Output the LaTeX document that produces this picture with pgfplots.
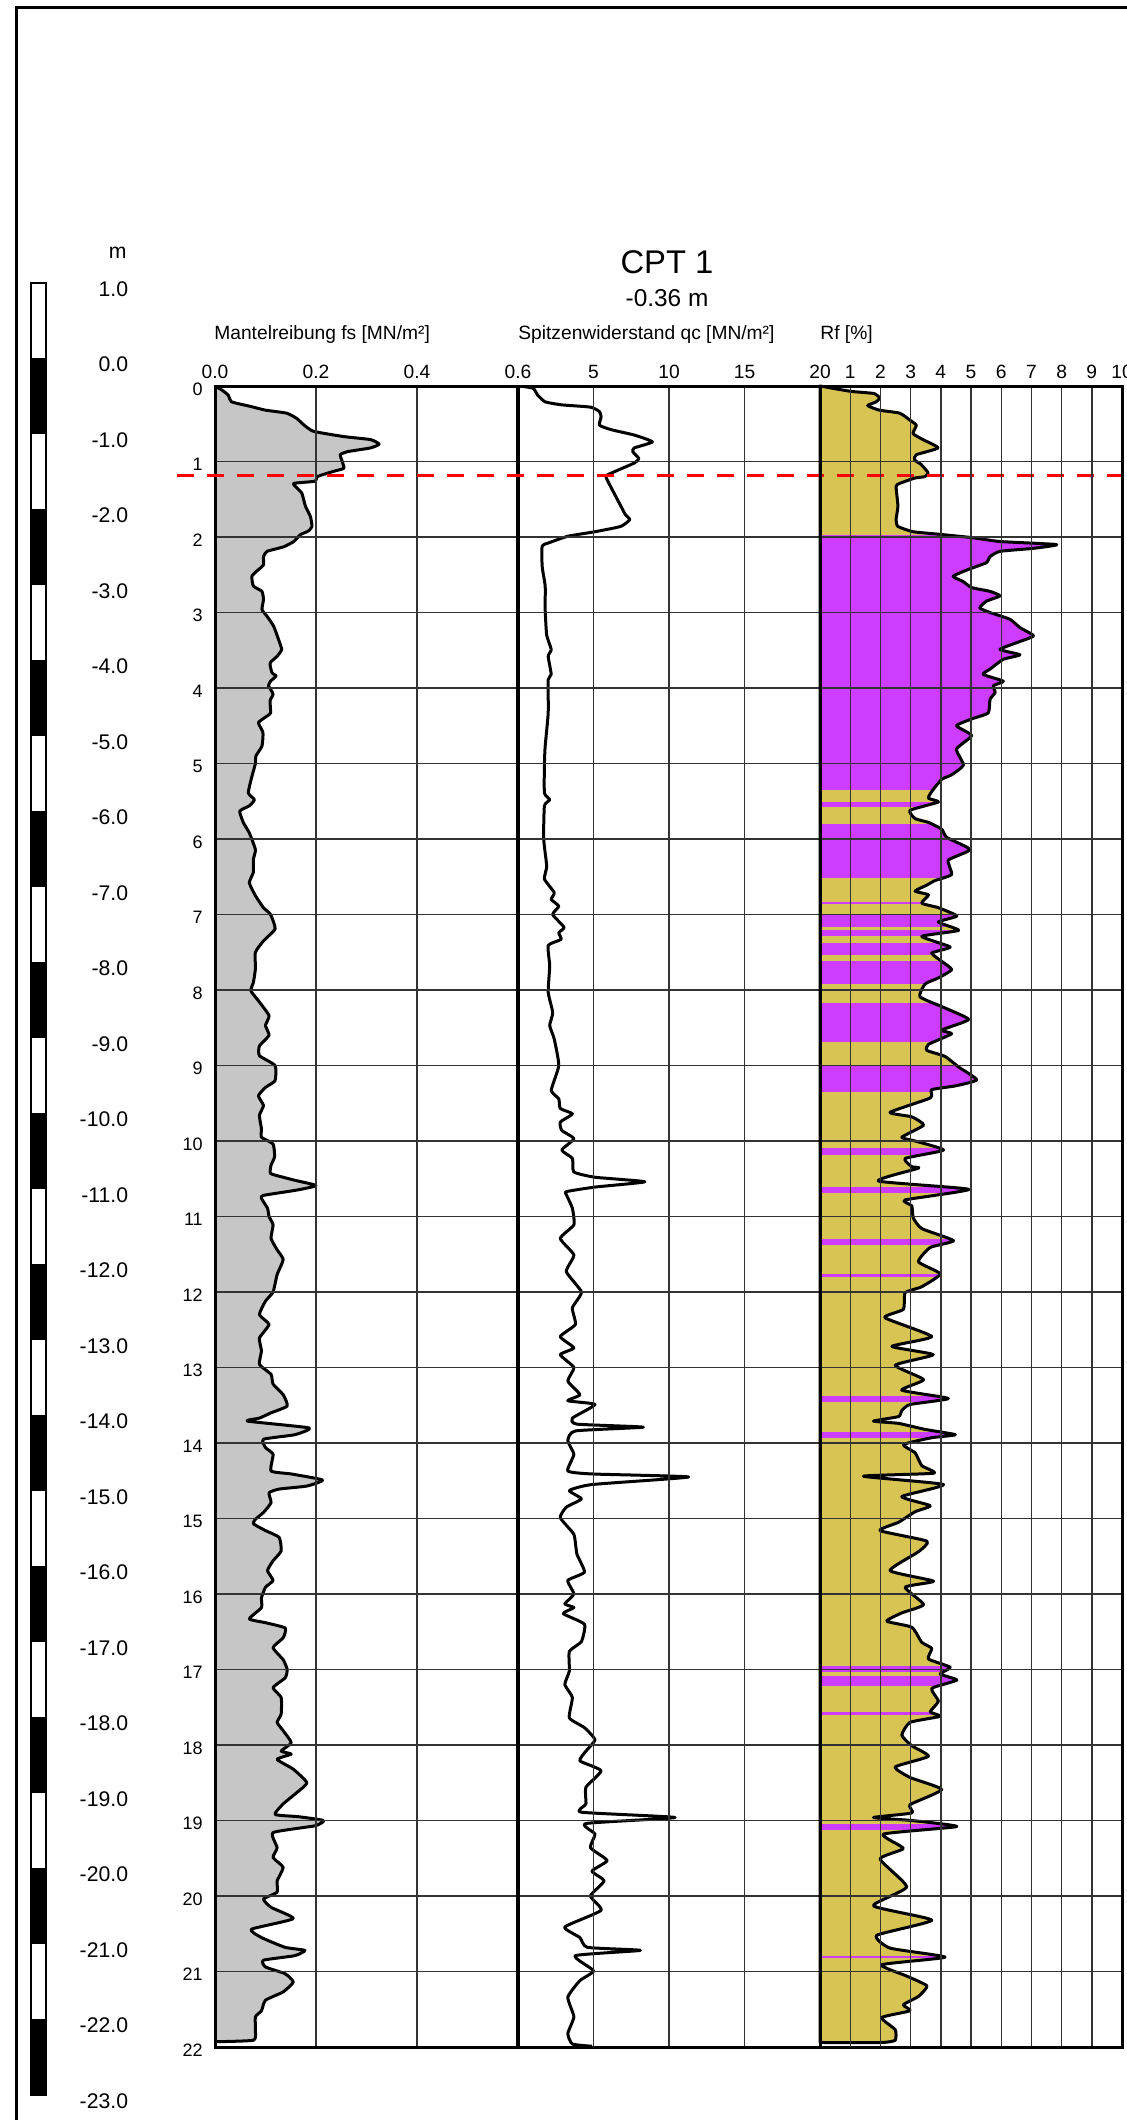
\documentclass[border=0pt]{standalone}
\usepackage{fontspec}
\setmainfont{Liberation Sans}
\usepackage{pgfplots}
\usepackage{pgfplotstable}
\pgfplotsset{compat=1.18}
\definecolor{fsgray}{RGB}{198,198,198}
\definecolor{rfyel}{RGB}{216,196,82}
\definecolor{rfmag}{RGB}{205,60,255}
\newcommand{\fsize}[1]{\fontsize{#1}{#1}\selectfont}

\pgfplotstableread{
x y
0 0
0.013 0.05
0.026 0.12
0.033 0.21
0.07 0.27
0.10 0.32
0.142 0.36
0.162 0.43
0.175 0.51
0.195 0.60
0.255 0.67
0.308 0.71
0.325 0.77
0.308 0.82
0.262 0.87
0.248 0.91
0.252 1.00
0.255 1.09
0.235 1.13
0.202 1.20
0.199 1.26
0.156 1.29
0.162 1.35
0.172 1.42
0.179 1.59
0.189 1.73
0.192 1.86
0.185 1.92
0.169 1.97
0.156 2.06
0.136 2.13
0.103 2.19
0.096 2.26
0.096 2.37
0.083 2.45
0.073 2.52
0.076 2.65
0.093 2.72
0.096 2.83
0.093 2.96
0.103 3.05
0.116 3.18
0.126 3.36
0.132 3.49
0.123 3.58
0.109 3.67
0.113 3.80
0.121 3.84
0.110 3.91
0.106 3.97
0.115 4.08
0.109 4.17
0.110 4.33
0.099 4.39
0.086 4.46
0.095 4.59
0.093 4.77
0.081 4.90
0.080 5.00
0.072 5.20
0.066 5.39
0.078 5.48
0.068 5.56
0.049 5.63
0.056 5.78
0.068 5.92
0.080 6.14
0.076 6.27
0.076 6.44
0.068 6.58
0.080 6.75
0.096 6.91
0.110 7.00
0.119 7.19
0.096 7.35
0.080 7.50
0.080 7.72
0.076 7.90
0.071 8.01
0.088 8.16
0.107 8.34
0.100 8.47
0.107 8.60
0.088 8.74
0.088 8.87
0.119 9.00
0.119 9.20
0.100 9.29
0.086 9.40
0.096 9.53
0.088 9.66
0.092 9.84
0.092 9.95
0.115 10.04
0.118 10.21
0.111 10.32
0.110 10.43
0.135 10.48
0.158 10.52
0.200 10.59
0.162 10.65
0.096 10.72
0.092 10.76
0.104 10.89
0.107 11.00
0.115 11.11
0.111 11.29
0.123 11.44
0.135 11.57
0.123 11.77
0.115 12.00
0.100 12.12
0.088 12.30
0.107 12.43
0.088 12.61
0.092 12.78
0.088 12.96
0.111 13.09
0.115 13.22
0.135 13.36
0.143 13.51
0.111 13.60
0.088 13.67
0.064 13.71
0.186 13.80
0.158 13.89
0.096 13.95
0.100 14.06
0.115 14.15
0.111 14.37
0.151 14.41
0.213 14.49
0.182 14.57
0.127 14.61
0.107 14.66
0.111 14.79
0.096 14.92
0.080 15.01
0.076 15.07
0.100 15.16
0.127 15.25
0.131 15.43
0.115 15.56
0.104 15.69
0.115 15.82
0.100 15.91
0.092 16.05
0.092 16.18
0.068 16.33
0.100 16.38
0.139 16.45
0.135 16.58
0.115 16.71
0.135 16.87
0.143 17.00
0.139 17.11
0.115 17.24
0.131 17.37
0.131 17.59
0.123 17.70
0.135 17.81
0.151 17.97
0.131 18.08
0.151 18.12
0.123 18.19
0.155 18.32
0.182 18.50
0.162 18.63
0.135 18.78
0.119 18.92
0.166 18.95
0.215 19.00
0.198 19.07
0.115 19.16
0.123 19.36
0.115 19.49
0.135 19.62
0.123 19.80
0.123 19.95
0.096 20.04
0.111 20.15
0.155 20.30
0.072 20.44
0.092 20.55
0.139 20.68
0.178 20.72
0.158 20.79
0.096 20.85
0.100 20.94
0.139 21.03
0.155 21.14
0.135 21.27
0.100 21.38
0.092 21.52
0.080 21.60
0.080 21.78
0.076 21.91
0 21.93
}\fstab

\pgfplotstableread{
x y
0.1 0
1.0 0.03
1.3 0.12
1.8 0.21
2.9 0.25
4.8 0.28
5.4 0.34
5.5 0.41
5.4 0.52
6.2 0.58
7.7 0.65
8.9 0.74
7.7 0.82
7.6 0.87
8.0 0.96
7.7 1.02
5.9 1.18
5.9 1.24
6.6 1.51
7.1 1.70
7.4 1.77
6.8 1.86
5.1 1.93
3.3 1.99
2.0 2.08
1.6 2.12
1.6 2.39
1.8 2.65
1.8 2.96
1.9 3.30
2.2 3.49
2.0 3.58
2.2 3.82
2.0 3.89
2.0 4.33
1.8 4.77
1.75 5.00
1.75 5.39
2.1 5.48
1.75 5.56
1.7 6.00
1.9 6.36
1.75 6.53
2.4 6.71
2.2 6.80
2.7 6.89
2.3 7.00
3.05 7.17
2.7 7.24
2.85 7.33
2.0 7.41
2.1 7.68
2.0 8.03
2.3 8.30
2.1 8.47
2.4 8.65
2.7 9.00
2.2 9.33
2.7 9.44
2.8 9.57
3.6 9.64
2.8 9.75
2.9 9.86
3.7 9.97
2.9 10.12
3.6 10.23
3.7 10.41
5.1 10.48
8.4 10.54
5.1 10.61
3.2 10.67
3.2 10.71
3.6 10.89
3.7 11.11
2.8 11.29
3.7 11.51
3.2 11.73
4.2 12.00
3.6 12.21
3.8 12.43
2.8 12.59
3.7 12.74
2.8 12.83
3.7 13.00
3.3 13.18
4.1 13.36
3.3 13.44
5.1 13.49
3.6 13.67
3.9 13.75
8.3 13.79
3.8 13.84
3.3 13.97
3.7 14.15
3.3 14.37
4.9 14.41
11.3 14.45
4.9 14.55
3.4 14.63
4.2 14.74
3.2 14.85
2.8 14.99
3.7 15.21
3.9 15.47
4.4 15.71
3.3 15.82
3.7 16.00
3.1 16.13
3.7 16.18
3.0 16.26
4.4 16.40
4.2 16.63
3.4 16.76
3.4 17.02
3.1 17.20
3.6 17.37
3.4 17.64
4.4 17.77
5.1 17.93
4.5 18.08
4.1 18.21
5.5 18.34
4.5 18.56
4.5 18.78
4.2 18.89
10.4 18.96
4.5 19.04
5.1 19.18
4.8 19.36
5.9 19.53
4.9 19.67
5.7 19.80
4.8 20.00
5.5 20.19
3.1 20.41
4.1 20.55
4.6 20.68
8.1 20.72
3.8 20.79
5.0 20.99
4.1 21.12
3.3 21.34
3.7 21.60
3.3 21.82
3.6 21.96
4.9 21.99
}\qctab

\pgfplotstableread{
x y
0 0
1.0 0.07
1.8 0.10
1.97 0.16
1.86 0.21
1.58 0.26
1.97 0.32
2.64 0.36
2.97 0.45
3.19 0.52
3.08 0.63
3.41 0.71
3.91 0.82
3.19 0.91
3.13 0.98
3.35 1.04
3.58 1.15
3.47 1.20
3.13 1.22
2.64 1.29
2.52 1.33
2.58 1.59
2.52 1.77
2.58 1.86
3.08 1.93
3.85 1.96
5.07 2.01
5.96 2.06
7.84 2.10
7.07 2.15
5.96 2.19
5.63 2.26
5.51 2.34
4.91 2.43
4.41 2.52
4.74 2.59
5.02 2.67
5.63 2.72
5.96 2.78
5.51 2.85
5.29 2.94
5.63 3.00
6.29 3.09
6.62 3.20
7.07 3.31
6.51 3.40
5.96 3.49
6.62 3.56
6.07 3.62
5.63 3.75
5.40 3.82
6.07 3.91
5.74 3.97
5.80 4.06
5.63 4.15
5.57 4.33
5.02 4.41
4.52 4.50
5.02 4.63
4.52 4.81
4.75 5.02
4.36 5.15
4.03 5.21
3.70 5.37
3.59 5.46
3.92 5.51
2.98 5.62
3.15 5.73
3.59 5.78
4.03 5.87
4.20 5.98
4.97 6.14
4.25 6.28
4.36 6.47
3.81 6.55
3.54 6.61
3.15 6.69
3.59 6.74
3.37 6.85
3.92 6.91
4.53 7.02
3.92 7.10
4.59 7.21
3.37 7.29
4.31 7.43
3.70 7.51
4.03 7.62
4.36 7.73
3.92 7.84
3.48 7.92
3.31 8.09
4.09 8.23
4.92 8.39
4.03 8.53
4.36 8.58
3.59 8.72
3.54 8.80
4.14 8.88
4.59 9.02
5.19 9.19
4.48 9.27
3.70 9.32
3.65 9.43
2.32 9.62
3.04 9.68
3.43 9.79
2.71 9.95
3.15 10.00
4.09 10.12
2.82 10.23
3.04 10.34
3.26 10.36
1.93 10.53
4.92 10.64
2.82 10.78
3.04 10.86
3.09 11.02
3.37 11.16
4.42 11.32
3.65 11.41
3.26 11.60
3.98 11.76
3.37 11.93
2.82 12.01
2.76 12.23
2.15 12.34
3.70 12.59
2.38 12.72
3.75 12.83
2.49 12.97
3.43 13.16
2.71 13.30
4.25 13.41
2.98 13.49
2.71 13.57
2.60 13.65
1.77 13.71
2.60 13.74
3.48 13.82
4.48 13.89
3.70 13.93
2.76 14.02
3.15 14.13
3.37 14.30
3.76 14.40
1.44 14.44
4.09 14.55
2.71 14.71
3.65 14.83
3.15 14.91
2.60 15.05
1.99 15.16
3.54 15.30
3.26 15.44
2.32 15.69
3.76 15.83
2.82 15.91
3.43 16.14
2.71 16.25
2.21 16.36
3.04 16.44
3.37 16.64
3.70 16.72
3.59 16.86
4.31 16.97
3.98 17.06
4.53 17.14
3.70 17.25
3.92 17.42
3.65 17.56
3.98 17.62
2.98 17.70
2.71 17.87
3.04 18.01
3.59 18.15
2.49 18.29
2.98 18.43
4.03 18.59
2.98 18.79
3.04 18.90
1.77 18.96
3.04 19.00
4.53 19.08
2.10 19.18
2.76 19.37
1.99 19.51
2.87 19.88
1.77 20.13
3.70 20.32
1.88 20.52
2.32 20.69
4.14 20.81
2.04 20.91
2.87 21.06
3.54 21.19
3.26 21.33
2.76 21.44
2.98 21.52
2.04 21.61
2.49 21.77
2.49 21.91
2.04 21.94
0 21.94
}\rftab

\newcommand{\band}[2]{\addplot[fill=rfmag,draw=none] coordinates {(0,#1) (10,#1) (10,#2) (0,#2)} -- cycle;}
\newcommand{\blk}[2]{\addplot[fill=black,draw=none] coordinates {(0,#1) (1,#1) (1,#2) (0,#2)} -- cycle;}

\pgfplotsset{
  cpt/.style={
    scale only axis, height=830.5pt, y dir=reverse, ymin=0, ymax=22,
    ytick={0,...,22}, grid=major,
    major grid style={black!80, line width=0.7pt},
    axis line style={line width=1.5pt},
    major tick length=0pt, axis on top, anchor=north west,
    xticklabel pos=upper,
    /pgf/number format/assume math mode=true,
    tick label style={font=\fsize{9.6}},
    yticklabel style={font=\fsize{9}, xshift=-2.6pt, yshift=-1.5pt},
  },
  curve/.style={draw=black, line width=1.5pt, line join=round, smooth, tension=0.3},
}

\begin{document}
\begin{tikzpicture}
\useasboundingbox (0,0) rectangle (563pt,1060pt);
\draw[line width=1.5pt] (8pt,-10pt) -- (8pt,1056pt) -- (600pt,1056pt);

% elevation scale
\begin{axis}[scale only axis, anchor=north west, at={(15.5pt,918.5pt)},
  width=7.5pt, height=906pt, xmin=0, xmax=1, ymin=-23, ymax=1,
  xtick=\empty, ytick={-23,...,1}, major tick length=0pt,
  axis line style={line width=0.6pt},
  yticklabel pos=right,
  yticklabels={-23.0,-22.0,-21.0,-20.0,-19.0,-18.0,-17.0,-16.0,-15.0,-14.0,-13.0,-12.0,-11.0,-10.0,-9.0,-8.0,-7.0,-6.0,-5.0,-4.0,-3.0,-2.0,-1.0,0.0,1.0},
  yticklabel style={font=\fsize{10.6}, text width=37.5pt, align=right, yshift=-3pt},
]
\blk{0}{-1}\blk{-2}{-3}\blk{-4}{-5}\blk{-6}{-7}\blk{-8}{-9}\blk{-10}{-11}
\blk{-12}{-13}\blk{-14}{-15}\blk{-16}{-17}\blk{-18}{-19}\blk{-20}{-21}\blk{-22}{-23}
\end{axis}

% fs
\begin{axis}[cpt, at={(107.5pt,867pt)}, width=151.5pt,
  xmin=0, xmax=0.6, xtick={0,0.2,0.4,0.6}, xticklabels={0.0,0.2,0.4,0.6}]
\addplot[curve, fill=fsgray] table {\fstab} -- cycle;
\end{axis}

% qc
\begin{axis}[cpt, at={(259pt,867pt)}, width=151pt,
  xmin=0, xmax=20, xtick={5,10,15,20}, xticklabels={5,10,15,20}, yticklabels={}]
\addplot[curve] table {\qctab};
\end{axis}

% Rf
\begin{axis}[cpt, at={(410pt,867pt)}, width=151pt, clip=false,
  xmin=0, xmax=10, xtick={1,...,10}, xticklabels={1,2,3,4,5,6,7,8,9,10}, yticklabels={}]
\addplot[fill=rfyel, draw=none] coordinates {(0,0) (10,0) (10,22) (0,22)} -- cycle;
\band{1.97}{5.35}\band{5.51}{5.57}\band{5.80}{6.52}\band{6.83}{6.86}
\band{7.00}{7.17}\band{7.21}{7.29}\band{7.38}{7.54}\band{7.62}{7.92}
\band{8.17}{8.69}\band{8.99}{9.35}\band{10.09}{10.19}\band{10.61}{10.69}
\band{11.30}{11.38}\band{11.76}{11.80}\band{13.38}{13.46}\band{13.85}{13.93}
\band{16.95}{17.03}\band{17.09}{17.22}\band{17.56}{17.60}\band{19.05}{19.12}
\band{20.80}{20.82}
\addplot[fill=white, draw=none, smooth, tension=0.3] table {\rftab} -- (axis cs:0,22) -- (axis cs:10,22) -- (axis cs:10,0) -- cycle;
\addplot[curve] table {\rftab} -- cycle;
\draw[red, line width=1.5pt, dash pattern=on 8.5pt off 6.5pt] (axis cs:-21.3,1.19) -- (axis cs:10.3,1.19);
\end{axis}

% texts
\node[inner sep=0pt] at (333.5pt,929pt) {\fsize{16.4}CPT 1};
\node[inner sep=0pt] at (333.5pt,911pt) {\fsize{12.2}-0.36 m};
\node[inner sep=0pt, anchor=east] at (63.5pt,933.5pt) {\fsize{10.6}m};
\node[inner sep=0pt, anchor=west] at (107pt,892.5pt) {\fsize{9.6}Mantelreibung fs [MN/m²]};
\node[inner sep=0pt, anchor=west] at (259pt,892.5pt) {\fsize{9.6}Spitzenwiderstand qc [MN/m²]};
\node[inner sep=0pt, anchor=west] at (410pt,892.5pt) {\fsize{9.6}Rf [\%]};
\end{tikzpicture}
\end{document}
